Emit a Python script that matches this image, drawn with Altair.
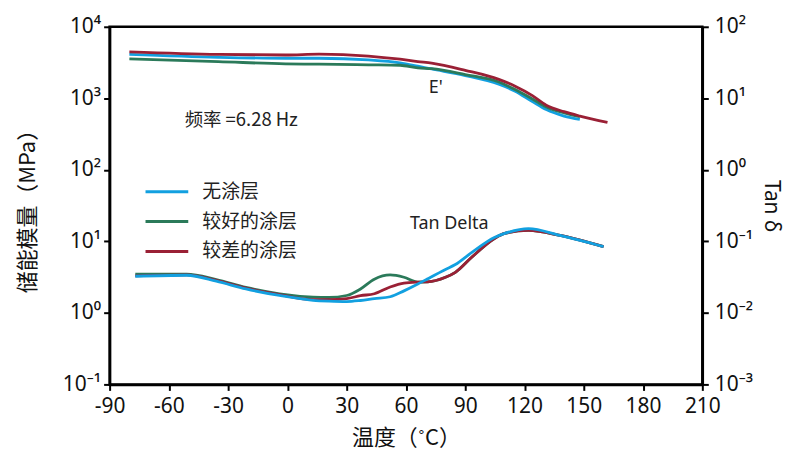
import altair as alt
import pandas as pd

# ---------------- data ----------------
series_names = ["无涂层", "较好的涂层", "较差的涂层"]
series_colors = ["#12a0e0", "#2b7a5a", "#9a2035"]

# Storage modulus E' (MPa)
e_temp = [-80, -35, -1, 16, 41, 57, 66, 73, 90, 107, 115, 124, 131, 140, 148]
e_blue = [4110, 3750, 3630, 3630, 3440, 3130, 2810, 2570, 2080, 1570, 1270, 900, 695, 565, 508]
e_green = [3550, 3260, 3030, 3000, 2940, 2900, 2660, 2600, 2150, 1690, 1340, 980, 757, 627, 553]
e_red_temp = [-80, -35, -1, 16, 41, 57, 66, 73, 90, 107, 115, 124, 131, 140, 148, 162]
e_red = [4470, 4110, 4030, 4160, 3900, 3520, 3260, 3100, 2460, 1840, 1490, 1090, 800, 650, 565, 462]

# Tan delta
t_temp = [-77, -51, -36, -21, -4, 13, 21, 30, 37, 44, 52, 59, 66, 71, 80, 85, 93, 105, 110, 122, 138, 160]
t_blue = [0.0325, 0.0336, 0.0278, 0.0216, 0.0175, 0.0150, 0.0146, 0.0144, 0.0149, 0.0158, 0.0168,
          0.0203, 0.0253, 0.0300, 0.0405, 0.0474, 0.0690, 0.114, 0.129, 0.151, 0.121, 0.0842]
t_green = [0.0347, 0.0347, 0.0292, 0.0227, 0.0185, 0.0166, 0.0164, 0.0175, 0.0216, 0.0296, 0.0339,
           0.0315, 0.0270, 0.0272, 0.0315, 0.0369, 0.059, 0.1106, 0.129, 0.142, 0.121, 0.0842]
t_red = [0.0330, 0.0340, 0.0285, 0.0222, 0.0180, 0.0153, 0.0153, 0.0158, 0.0174, 0.0185, 0.0230,
         0.0261, 0.0270, 0.0272, 0.0315, 0.0369, 0.059, 0.1106, 0.129, 0.142, 0.121, 0.0842]

x_ticks = [-90, -60, -30, 0, 30, 60, 90, 120, 150, 180, 210]
left_ticks = [0.1, 1, 10, 100, 1000, 10000]
right_ticks = [0.001, 0.01, 0.1, 1, 10, 100]

freq_text = "频率 =6.28 Hz"
e_label = "E'"
tan_label = "Tan Delta"

# ---------------- tables ----------------
def frame(temps, vals, name):
    return pd.DataFrame({"T": temps, "v": vals, "series": name})

e_frames = {
    series_names[0]: frame(e_temp, e_blue, series_names[0]),
    series_names[1]: frame(e_temp, e_green, series_names[1]),
    series_names[2]: frame(e_red_temp, e_red, series_names[2]),
}
t_frames = {
    series_names[0]: frame(t_temp, t_blue, series_names[0]),
    series_names[1]: frame(t_temp, t_green, series_names[1]),
    series_names[2]: frame(t_temp, t_red, series_names[2]),
}

NUM_FONT = "Noto Sans"
CJK_FONT = "Noto Sans CJK SC"
sup_expr = "'10' + ['⁻³','⁻²','⁻¹','⁰','¹','²','³','⁴'][round(log(datum.value)/LN10)+3]"

x_enc = alt.X(
    "T:Q",
    scale=alt.Scale(domain=[-90, 210], nice=False, zero=False),
    axis=alt.Axis(
        values=x_ticks, labelExpr="datum.value + ''", labelFlush=False, labelOverlap=False,
        title="温度（˚C）", titleFont=CJK_FONT, titleFontSize=22,
        titleFontWeight="normal", titleY=53, titleBaseline="middle",
        labelFont=NUM_FONT, labelFontSize=21, labelPadding=5, tickSize=6,
        grid=False,
    ),
)

color_enc = alt.Color(
    "series:N",
    scale=alt.Scale(domain=series_names, range=series_colors),
    legend=alt.Legend(
        title=None, orient="none", legendX=45, legendY=153,
        symbolType="M-2,0H2", symbolSize=460, symbolStrokeWidth=3,
        labelFont=CJK_FONT, labelFontSize=19, labelColor="#222222",
        rowPadding=7, labelOffset=23,
    ),
)

left_y = alt.Y(
    "v:Q",
    scale=alt.Scale(type="log", domain=[0.1, 10000], nice=False),
    axis=alt.Axis(
        values=left_ticks, labelExpr=sup_expr, title="储能模量（MPa）",
        titleFont=CJK_FONT, titleFontSize=22, titleFontWeight="normal",
        titleX=-82, titleY=179.5, titleAngle=-90, titleAlign="center", titleBaseline="middle",
        labelFont=NUM_FONT, labelFontSize=21, labelPadding=3, tickSize=6, grid=False,
    ),
)

right_y = alt.Y(
    "v:Q",
    scale=alt.Scale(type="log", domain=[0.001, 100], nice=False),
    axis=alt.Axis(
        orient="right", values=right_ticks, labelExpr=sup_expr, title="Tan δ",
        titleFont=NUM_FONT, titleFontSize=21, titleFontWeight="normal",
        titleX=68, titleY=179.5, titleAngle=90, titleAlign="center", titleBaseline="middle",
        labelFont=NUM_FONT, labelFontSize=21, labelPadding=6, tickSize=6, grid=False,
    ),
)

# E' layers (blue, green, red drawing order)
e_layers = []
for name in [series_names[0], series_names[1], series_names[2]]:
    e_layers.append(
        alt.Chart(e_frames[name]).mark_line(strokeWidth=2.8, interpolate="monotone")
        .encode(x=x_enc, y=left_y, color=color_enc)
    )

ann_style = dict(font=NUM_FONT, fontSize=18, color="#222222", align="left", baseline="middle")
ann_freq = alt.Chart(pd.DataFrame({"t": [freq_text]})).mark_text(font=CJK_FONT, fontSize=18.5,
    color="#222222", align="left", baseline="middle").encode(
    x=alt.datum(-52), y=alt.datum(490), text="t:N")
ann_e = alt.Chart(pd.DataFrame({"t": [e_label]})).mark_text(**ann_style).encode(
    x=alt.datum(71.5), y=alt.datum(1400), text="t:N")
ann_tan = alt.Chart(pd.DataFrame({"t": [tan_label]})).mark_text(**ann_style).encode(
    x=alt.datum(62), y=alt.datum(17.5), text="t:N")

left_layer = alt.layer(*e_layers, ann_freq, ann_e, ann_tan)

# Tan delta layers (green, red, blue drawing order)
t_layers = []
for name in [series_names[1], series_names[2], series_names[0]]:
    t_layers.append(
        alt.Chart(t_frames[name]).mark_line(strokeWidth=2.8, interpolate="monotone")
        .encode(x=x_enc, y=right_y, color=color_enc)
    )
right_layer = alt.layer(*t_layers)

chart = (
    alt.layer(left_layer, right_layer)
    .resolve_scale(y="independent")
    .properties(
        width=595, height=359,
        autosize=alt.AutoSizeParams(type="none"),
        padding={"left": 102, "top": 18, "right": 84, "bottom": 66},
        background="white",
    )
    .configure_view(stroke="black", strokeWidth=2.5)
    .configure_axis(
        domainColor="black", domainWidth=2.5, tickColor="black", tickWidth=2,
        labelColor="#111111", titleColor="#111111",
    )
)

chart.save("out.html", embed_options={"renderer": "svg", "actions": False})
